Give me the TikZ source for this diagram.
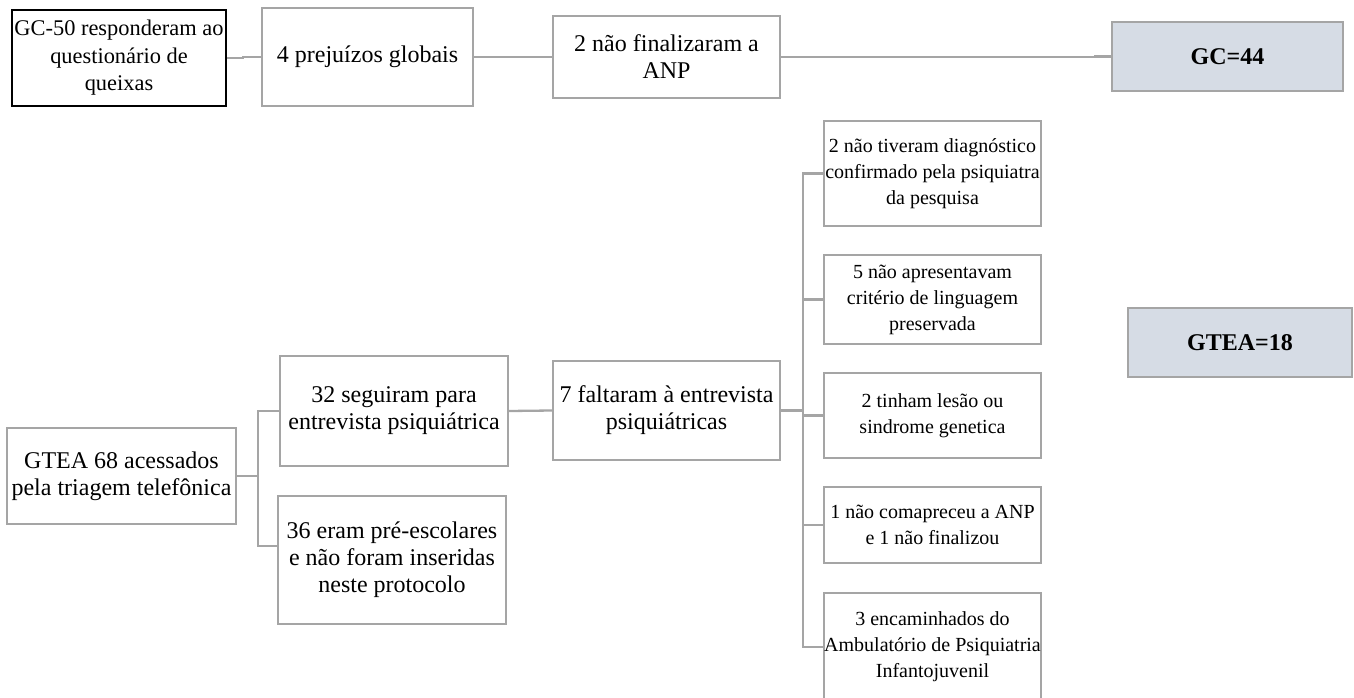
\documentclass[tikz,border=0pt]{standalone}
\usepackage{fontspec}
\setmainfont{Liberation Serif}
\definecolor{ln}{HTML}{A5A5A5}
\definecolor{fillb}{HTML}{D6DCE5}
\begin{document}
\begin{tikzpicture}[x=1pt,y=-1pt,
  box/.style={draw=ln, line width=2.3pt, fill=white, inner sep=0pt, align=center, font=\fontsize{24}{27}\selectfont},
  rbox/.style={box, minimum width=217pt, font=\fontsize{20}{26}\selectfont},
  res/.style={box, fill=fillb, font=\fontsize{24}{27}\selectfont\bfseries},
  conn/.style={draw=ln, line width=2.3pt}]
\useasboundingbox (0,0) rectangle (1354,698);
\clip (0,0) rectangle (1354,698);
% top row
\node[box, draw=black, line width=2.3pt, minimum width=214pt, minimum height=96pt, font=\fontsize{22.4}{27.5}\selectfont] (A) at (119,58) {GC-50 responderam ao\\questionário de\\queixas};
\node[box, minimum width=211pt, minimum height=98pt] (B) at (367.5,57) {4 prejuízos globais};
\node[box, minimum width=227pt, minimum height=82pt] (C) at (666.5,57) {2 não finalizaram a\\ANP};
\node[res, minimum width=231pt, minimum height=69pt] (GC) at (1227.5,56.5) {GC=44};
% bottom left
\node[box, minimum width=229pt, minimum height=96pt] (G68) at (121.5,476) {GTEA 68 acessados\\pela triagem telefônica};
\node[box, minimum width=228pt, minimum height=110pt] (B32) at (394,411) {32 seguiram para\\entrevista psiquiátrica};
\node[box, minimum width=228pt, minimum height=128pt] (B36) at (392,560) {36 eram pré-escolares\\e não foram inseridas\\neste protocolo};
\node[box, minimum width=227pt, minimum height=99pt] (B7) at (666.5,410.5) {7 faltaram à entrevista\\psiquiátricas};
% right column
\node[rbox, minimum height=105pt] (R1) at (932.5,173.5) {2 não tiveram diagnóstico\\confirmado pela psiquiatra\\da pesquisa};
\node[rbox, minimum height=89pt] (R2) at (932.5,299.5) {5 não apresentavam\\critério de linguagem\\preservada};
\node[rbox, minimum height=85pt] (R3) at (932.5,415.5) {2 tinham lesão ou\\sindrome genetica};
\node[rbox, minimum height=76pt] (R4) at (932.5,525) {1 não comapreceu a ANP\\e 1 não finalizou};
\node[rbox, minimum height=108pt] (R5) at (932.5,647) {3 encaminhados do\\Ambulatório de Psiquiatria\\Infantojuvenil};
\node[res, minimum width=224pt, minimum height=69pt] (GT) at (1240,342.5) {GTEA=18};
% connectors top
\draw[conn] (A.east) -- ++(16,0) |- (B.west);
\draw[conn] (B.east) -- (C.west);
\draw[conn] (C.east) -- ++(314,0) |- (GC.west);
% connectors bottom-left
\coordinate (j1) at (258,476);
\coordinate (b36in) at (278,546);
\draw[conn] (G68.east) -- (j1);
\draw[conn] (B32.west) -| (j1) |- (b36in);
\draw[conn] (B32.east) -- (B7.west);
% connectors right
\coordinate (tx) at (803,410.5);
\draw[conn] (B7.east) -- (tx);
\draw[conn] (R1.west) -| (tx) |- (R5.west);
\draw[conn] (R2.west) -- (R2.west -| tx);
\draw[conn] (R3.west) -- (R3.west -| tx);
\draw[conn] (R4.west) -- (R4.west -| tx);
\end{tikzpicture}
\end{document}
